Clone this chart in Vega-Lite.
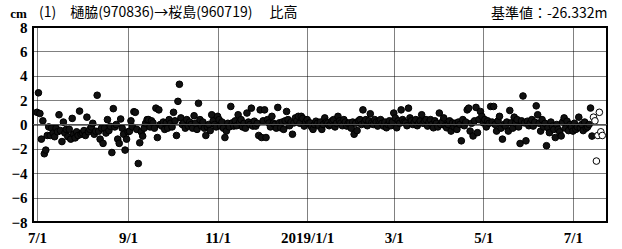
{
"$schema": "https://vega.github.io/schema/vega-lite/v6.json",
"width": 574, "height": 195,
"autosize": "none",
"padding": {"left": 33, "top": 27, "right": 15, "bottom": 27},
"background": "white",
"config": {"view": {"stroke": "#000", "strokeWidth": 2}},
"title": {"text": "(1)　樋脇(970836)→桜島(960719)　 比高", "anchor": "start", "frame": "group", "font": "Noto Sans CJK JP", "fontSize": 14, "fontWeight": "normal", "color": "#000", "offset": -14, "dx": 6},
"data": {"values": [
{"date":"2018-07-01","cm":1.0,"sol":"F"},{"date":"2018-07-02","cm":2.6,"sol":"F"},{"date":"2018-07-03","cm":0.9,"sol":"F"},{"date":"2018-07-04","cm":-1.2,"sol":"F"},{"date":"2018-07-05","cm":0.3,"sol":"F"},{"date":"2018-07-06","cm":-2.4,"sol":"F"},{"date":"2018-07-07","cm":-2.1,"sol":"F"},{"date":"2018-07-08","cm":-0.9,"sol":"F"},{"date":"2018-07-09","cm":-0.2,"sol":"F"},{"date":"2018-07-10","cm":-0.9,"sol":"F"},
{"date":"2018-07-11","cm":-0.3,"sol":"F"},{"date":"2018-07-12","cm":-0.7,"sol":"F"},{"date":"2018-07-13","cm":-1.0,"sol":"F"},{"date":"2018-07-14","cm":-0.3,"sol":"F"},{"date":"2018-07-15","cm":-0.6,"sol":"F"},{"date":"2018-07-16","cm":0.8,"sol":"F"},{"date":"2018-07-17","cm":-0.5,"sol":"F"},{"date":"2018-07-18","cm":-1.4,"sol":"F"},{"date":"2018-07-19","cm":0.2,"sol":"F"},{"date":"2018-07-20","cm":-0.7,"sol":"F"},
{"date":"2018-07-21","cm":-0.4,"sol":"F"},{"date":"2018-07-22","cm":-1.0,"sol":"F"},{"date":"2018-07-23","cm":-0.4,"sol":"F"},{"date":"2018-07-24","cm":-1.2,"sol":"F"},{"date":"2018-07-25","cm":0.5,"sol":"F"},{"date":"2018-07-26","cm":-0.8,"sol":"F"},{"date":"2018-07-27","cm":-1.1,"sol":"F"},{"date":"2018-07-28","cm":-0.6,"sol":"F"},{"date":"2018-07-29","cm":-0.9,"sol":"F"},{"date":"2018-07-30","cm":1.1,"sol":"F"},{"date":"2018-07-31","cm":-0.8,"sol":"F"},
{"date":"2018-08-01","cm":-0.7,"sol":"F"},{"date":"2018-08-02","cm":-0.5,"sol":"F"},{"date":"2018-08-03","cm":-0.9,"sol":"F"},{"date":"2018-08-04","cm":0.6,"sol":"F"},{"date":"2018-08-05","cm":-0.6,"sol":"F"},{"date":"2018-08-06","cm":-0.4,"sol":"F"},{"date":"2018-08-07","cm":-0.2,"sol":"F"},{"date":"2018-08-08","cm":0.1,"sol":"F"},{"date":"2018-08-09","cm":-0.8,"sol":"F"},{"date":"2018-08-10","cm":-0.55,"sol":"F"},
{"date":"2018-08-11","cm":2.4,"sol":"F"},{"date":"2018-08-12","cm":-0.55,"sol":"F"},{"date":"2018-08-13","cm":-1.2,"sol":"F"},{"date":"2018-08-14","cm":-0.3,"sol":"F"},{"date":"2018-08-15","cm":-1.55,"sol":"F"},{"date":"2018-08-16","cm":-0.3,"sol":"F"},{"date":"2018-08-17","cm":-0.7,"sol":"F"},{"date":"2018-08-18","cm":0.4,"sol":"F"},{"date":"2018-08-19","cm":-0.5,"sol":"F"},{"date":"2018-08-20","cm":-0.15,"sol":"F"},
{"date":"2018-08-21","cm":-2.3,"sol":"F"},{"date":"2018-08-22","cm":1.3,"sol":"F"},{"date":"2018-08-23","cm":-0.2,"sol":"F"},{"date":"2018-08-24","cm":0.0,"sol":"F"},{"date":"2018-08-25","cm":-1.2,"sol":"F"},{"date":"2018-08-26","cm":-1.55,"sol":"F"},{"date":"2018-08-27","cm":0.45,"sol":"F"},{"date":"2018-08-28","cm":-0.3,"sol":"F"},{"date":"2018-08-29","cm":-0.8,"sol":"F"},{"date":"2018-08-30","cm":-2.1,"sol":"F"},{"date":"2018-08-31","cm":-1.2,"sol":"F"},
{"date":"2018-09-01","cm":-0.6,"sol":"F"},{"date":"2018-09-02","cm":-0.55,"sol":"F"},{"date":"2018-09-03","cm":0.3,"sol":"F"},{"date":"2018-09-04","cm":-0.2,"sol":"F"},{"date":"2018-09-05","cm":1.05,"sol":"F"},{"date":"2018-09-06","cm":1.0,"sol":"F"},{"date":"2018-09-07","cm":-0.4,"sol":"F"},{"date":"2018-09-08","cm":-3.2,"sol":"F"},{"date":"2018-09-09","cm":-1.5,"sol":"F"},{"date":"2018-09-10","cm":-0.6,"sol":"F"},
{"date":"2018-09-11","cm":-0.95,"sol":"F"},{"date":"2018-09-12","cm":-0.3,"sol":"F"},{"date":"2018-09-13","cm":0.1,"sol":"F"},{"date":"2018-09-14","cm":0.4,"sol":"F"},{"date":"2018-09-15","cm":0.4,"sol":"F"},{"date":"2018-09-16","cm":-0.2,"sol":"F"},{"date":"2018-09-17","cm":0.3,"sol":"F"},{"date":"2018-09-18","cm":0.13,"sol":"F"},{"date":"2018-09-19","cm":-0.3,"sol":"F"},{"date":"2018-09-20","cm":1.34,"sol":"F"},
{"date":"2018-09-21","cm":-1.07,"sol":"F"},{"date":"2018-09-22","cm":1.2,"sol":"F"},{"date":"2018-09-23","cm":0.0,"sol":"F"},{"date":"2018-09-24","cm":-0.13,"sol":"F"},{"date":"2018-09-25","cm":0.2,"sol":"F"},{"date":"2018-09-26","cm":-0.4,"sol":"F"},{"date":"2018-09-27","cm":0.13,"sol":"F"},{"date":"2018-09-28","cm":-0.3,"sol":"F"},{"date":"2018-09-29","cm":0.4,"sol":"F"},{"date":"2018-09-30","cm":0.1,"sol":"F"},
{"date":"2018-10-01","cm":-0.2,"sol":"F"},{"date":"2018-10-02","cm":1.0,"sol":"F"},{"date":"2018-10-03","cm":0.3,"sol":"F"},{"date":"2018-10-04","cm":-0.9,"sol":"F"},{"date":"2018-10-05","cm":1.9,"sol":"F"},{"date":"2018-10-06","cm":3.3,"sol":"F"},{"date":"2018-10-07","cm":0.54,"sol":"F"},{"date":"2018-10-08","cm":0.0,"sol":"F"},{"date":"2018-10-09","cm":0.13,"sol":"F"},{"date":"2018-10-10","cm":-0.3,"sol":"F"},
{"date":"2018-10-11","cm":0.4,"sol":"F"},{"date":"2018-10-12","cm":-0.13,"sol":"F"},{"date":"2018-10-13","cm":0.2,"sol":"F"},{"date":"2018-10-14","cm":0.0,"sol":"F"},{"date":"2018-10-15","cm":-0.3,"sol":"F"},{"date":"2018-10-16","cm":0.72,"sol":"F"},{"date":"2018-10-17","cm":0.1,"sol":"F"},{"date":"2018-10-18","cm":-0.4,"sol":"F"},{"date":"2018-10-19","cm":1.74,"sol":"F"},{"date":"2018-10-20","cm":0.4,"sol":"F"},
{"date":"2018-10-21","cm":-0.13,"sol":"F"},{"date":"2018-10-22","cm":0.2,"sol":"F"},{"date":"2018-10-23","cm":-0.3,"sol":"F"},{"date":"2018-10-24","cm":-0.9,"sol":"F"},{"date":"2018-10-25","cm":-0.2,"sol":"F"},{"date":"2018-10-26","cm":0.0,"sol":"F"},{"date":"2018-10-27","cm":-0.5,"sol":"F"},{"date":"2018-10-28","cm":0.8,"sol":"F"},{"date":"2018-10-29","cm":0.3,"sol":"F"},{"date":"2018-10-30","cm":0.0,"sol":"F"},{"date":"2018-10-31","cm":-0.2,"sol":"F"},
{"date":"2018-11-01","cm":0.67,"sol":"F"},{"date":"2018-11-02","cm":0.4,"sol":"F"},{"date":"2018-11-03","cm":-0.13,"sol":"F"},{"date":"2018-11-04","cm":0.2,"sol":"F"},{"date":"2018-11-05","cm":-0.3,"sol":"F"},{"date":"2018-11-06","cm":-1.07,"sol":"F"},{"date":"2018-11-07","cm":-0.54,"sol":"F"},{"date":"2018-11-08","cm":0.1,"sol":"F"},{"date":"2018-11-09","cm":-0.2,"sol":"F"},{"date":"2018-11-10","cm":1.48,"sol":"F"},
{"date":"2018-11-11","cm":0.13,"sol":"F"},{"date":"2018-11-12","cm":-0.13,"sol":"F"},{"date":"2018-11-13","cm":0.3,"sol":"F"},{"date":"2018-11-14","cm":-0.1,"sol":"F"},{"date":"2018-11-15","cm":0.8,"sol":"F"},{"date":"2018-11-16","cm":0.2,"sol":"F"},{"date":"2018-11-17","cm":0.4,"sol":"F"},{"date":"2018-11-18","cm":-0.2,"sol":"F"},{"date":"2018-11-19","cm":0.1,"sol":"F"},{"date":"2018-11-20","cm":-0.3,"sol":"F"},
{"date":"2018-11-21","cm":0.94,"sol":"F"},{"date":"2018-11-22","cm":0.2,"sol":"F"},{"date":"2018-11-23","cm":0.0,"sol":"F"},{"date":"2018-11-24","cm":1.34,"sol":"F"},{"date":"2018-11-25","cm":-0.13,"sol":"F"},{"date":"2018-11-26","cm":0.27,"sol":"F"},{"date":"2018-11-27","cm":-0.13,"sol":"F"},{"date":"2018-11-28","cm":0.1,"sol":"F"},{"date":"2018-11-29","cm":-0.9,"sol":"F"},{"date":"2018-11-30","cm":1.2,"sol":"F"},
{"date":"2018-12-01","cm":-1.07,"sol":"F"},{"date":"2018-12-02","cm":0.3,"sol":"F"},{"date":"2018-12-03","cm":1.2,"sol":"F"},{"date":"2018-12-04","cm":-1.07,"sol":"F"},{"date":"2018-12-05","cm":0.4,"sol":"F"},{"date":"2018-12-06","cm":0.13,"sol":"F"},{"date":"2018-12-07","cm":-0.2,"sol":"F"},{"date":"2018-12-08","cm":0.67,"sol":"F"},{"date":"2018-12-09","cm":0.1,"sol":"F"},{"date":"2018-12-10","cm":0.0,"sol":"F"},
{"date":"2018-12-11","cm":-0.3,"sol":"F"},{"date":"2018-12-12","cm":1.4,"sol":"F"},{"date":"2018-12-13","cm":0.13,"sol":"F"},{"date":"2018-12-14","cm":-0.27,"sol":"F"},{"date":"2018-12-15","cm":0.2,"sol":"F"},{"date":"2018-12-16","cm":-0.4,"sol":"F"},{"date":"2018-12-17","cm":0.3,"sol":"F"},{"date":"2018-12-18","cm":1.07,"sol":"F"},{"date":"2018-12-19","cm":0.4,"sol":"F"},{"date":"2018-12-20","cm":-0.1,"sol":"F"},
{"date":"2018-12-21","cm":0.2,"sol":"F"},{"date":"2018-12-22","cm":-0.8,"sol":"F"},{"date":"2018-12-23","cm":0.13,"sol":"F"},{"date":"2018-12-24","cm":0.54,"sol":"F"},{"date":"2018-12-25","cm":0.3,"sol":"F"},{"date":"2018-12-26","cm":0.67,"sol":"F"},{"date":"2018-12-27","cm":0.1,"sol":"F"},{"date":"2018-12-28","cm":0.67,"sol":"F"},{"date":"2018-12-29","cm":0.5,"sol":"F"},{"date":"2018-12-30","cm":-0.13,"sol":"F"},{"date":"2018-12-31","cm":0.2,"sol":"F"},
{"date":"2019-01-01","cm":0.4,"sol":"F"},{"date":"2019-01-02","cm":0.1,"sol":"F"},{"date":"2019-01-03","cm":0.13,"sol":"F"},{"date":"2019-01-04","cm":-0.2,"sol":"F"},{"date":"2019-01-05","cm":-0.4,"sol":"F"},{"date":"2019-01-06","cm":0.0,"sol":"F"},{"date":"2019-01-07","cm":0.27,"sol":"F"},{"date":"2019-01-08","cm":0.1,"sol":"F"},{"date":"2019-01-09","cm":-0.13,"sol":"F"},{"date":"2019-01-10","cm":0.2,"sol":"F"},
{"date":"2019-01-11","cm":-0.4,"sol":"F"},{"date":"2019-01-12","cm":0.0,"sol":"F"},{"date":"2019-01-13","cm":0.54,"sol":"F"},{"date":"2019-01-14","cm":0.2,"sol":"F"},{"date":"2019-01-15","cm":0.13,"sol":"F"},{"date":"2019-01-16","cm":-0.1,"sol":"F"},{"date":"2019-01-17","cm":0.0,"sol":"F"},{"date":"2019-01-18","cm":0.3,"sol":"F"},{"date":"2019-01-19","cm":0.4,"sol":"F"},{"date":"2019-01-20","cm":-0.2,"sol":"F"},
{"date":"2019-01-21","cm":0.1,"sol":"F"},{"date":"2019-01-22","cm":0.67,"sol":"F"},{"date":"2019-01-23","cm":0.3,"sol":"F"},{"date":"2019-01-24","cm":0.13,"sol":"F"},{"date":"2019-01-25","cm":-0.1,"sol":"F"},{"date":"2019-01-26","cm":0.4,"sol":"F"},{"date":"2019-01-27","cm":0.2,"sol":"F"},{"date":"2019-01-28","cm":-0.13,"sol":"F"},{"date":"2019-01-29","cm":0.1,"sol":"F"},{"date":"2019-01-30","cm":0.13,"sol":"F"},{"date":"2019-01-31","cm":-0.3,"sol":"F"},
{"date":"2019-02-01","cm":0.2,"sol":"F"},{"date":"2019-02-02","cm":-0.8,"sol":"F"},{"date":"2019-02-03","cm":0.1,"sol":"F"},{"date":"2019-02-04","cm":-0.5,"sol":"F"},{"date":"2019-02-05","cm":0.3,"sol":"F"},{"date":"2019-02-06","cm":0.4,"sol":"F"},{"date":"2019-02-07","cm":0.0,"sol":"F"},{"date":"2019-02-08","cm":1.2,"sol":"F"},{"date":"2019-02-09","cm":0.2,"sol":"F"},{"date":"2019-02-10","cm":0.4,"sol":"F"},
{"date":"2019-02-11","cm":-0.1,"sol":"F"},{"date":"2019-02-12","cm":0.3,"sol":"F"},{"date":"2019-02-13","cm":0.88,"sol":"F"},{"date":"2019-02-14","cm":0.13,"sol":"F"},{"date":"2019-02-15","cm":0.0,"sol":"F"},{"date":"2019-02-16","cm":0.4,"sol":"F"},{"date":"2019-02-17","cm":0.2,"sol":"F"},{"date":"2019-02-18","cm":-0.13,"sol":"F"},{"date":"2019-02-19","cm":0.3,"sol":"F"},{"date":"2019-02-20","cm":0.4,"sol":"F"},
{"date":"2019-02-21","cm":0.1,"sol":"F"},{"date":"2019-02-22","cm":-0.13,"sol":"F"},{"date":"2019-02-23","cm":0.2,"sol":"F"},{"date":"2019-02-24","cm":-0.27,"sol":"F"},{"date":"2019-02-25","cm":0.0,"sol":"F"},{"date":"2019-02-26","cm":0.3,"sol":"F"},{"date":"2019-02-27","cm":-0.1,"sol":"F"},{"date":"2019-02-28","cm":0.2,"sol":"F"},
{"date":"2019-03-01","cm":0.94,"sol":"F"},{"date":"2019-03-02","cm":0.54,"sol":"F"},{"date":"2019-03-03","cm":-0.27,"sol":"F"},{"date":"2019-03-04","cm":0.3,"sol":"F"},{"date":"2019-03-05","cm":0.1,"sol":"F"},{"date":"2019-03-06","cm":1.2,"sol":"F"},{"date":"2019-03-07","cm":0.4,"sol":"F"},{"date":"2019-03-08","cm":0.2,"sol":"F"},{"date":"2019-03-09","cm":0.13,"sol":"F"},{"date":"2019-03-10","cm":-0.1,"sol":"F"},
{"date":"2019-03-11","cm":1.34,"sol":"F"},{"date":"2019-03-12","cm":0.54,"sol":"F"},{"date":"2019-03-13","cm":0.3,"sol":"F"},{"date":"2019-03-14","cm":0.0,"sol":"F"},{"date":"2019-03-15","cm":0.2,"sol":"F"},{"date":"2019-03-16","cm":0.4,"sol":"F"},{"date":"2019-03-17","cm":-0.1,"sol":"F"},{"date":"2019-03-18","cm":0.13,"sol":"F"},{"date":"2019-03-19","cm":0.3,"sol":"F"},{"date":"2019-03-20","cm":0.8,"sol":"F"},
{"date":"2019-03-21","cm":0.1,"sol":"F"},{"date":"2019-03-22","cm":0.27,"sol":"F"},{"date":"2019-03-23","cm":0.4,"sol":"F"},{"date":"2019-03-24","cm":-0.13,"sol":"F"},{"date":"2019-03-25","cm":0.2,"sol":"F"},{"date":"2019-03-26","cm":0.4,"sol":"F"},{"date":"2019-03-27","cm":0.0,"sol":"F"},{"date":"2019-03-28","cm":-0.27,"sol":"F"},{"date":"2019-03-29","cm":0.3,"sol":"F"},{"date":"2019-03-30","cm":0.1,"sol":"F"},{"date":"2019-03-31","cm":-0.2,"sol":"F"},
{"date":"2019-04-01","cm":0.94,"sol":"F"},{"date":"2019-04-02","cm":0.0,"sol":"F"},{"date":"2019-04-03","cm":0.2,"sol":"F"},{"date":"2019-04-04","cm":0.54,"sol":"F"},{"date":"2019-04-05","cm":-0.1,"sol":"F"},{"date":"2019-04-06","cm":-0.27,"sol":"F"},{"date":"2019-04-07","cm":0.0,"sol":"F"},{"date":"2019-04-08","cm":0.3,"sol":"F"},{"date":"2019-04-09","cm":-0.54,"sol":"F"},{"date":"2019-04-10","cm":0.13,"sol":"F"},
{"date":"2019-04-11","cm":-0.2,"sol":"F"},{"date":"2019-04-12","cm":0.1,"sol":"F"},{"date":"2019-04-13","cm":-0.4,"sol":"F"},{"date":"2019-04-14","cm":0.2,"sol":"F"},{"date":"2019-04-15","cm":0.0,"sol":"F"},{"date":"2019-04-16","cm":-1.34,"sol":"F"},{"date":"2019-04-17","cm":0.4,"sol":"F"},{"date":"2019-04-18","cm":-0.1,"sol":"F"},{"date":"2019-04-19","cm":0.2,"sol":"F"},{"date":"2019-04-20","cm":1.2,"sol":"F"},
{"date":"2019-04-21","cm":1.34,"sol":"F"},{"date":"2019-04-22","cm":-0.54,"sol":"F"},{"date":"2019-04-23","cm":0.1,"sol":"F"},{"date":"2019-04-24","cm":-0.94,"sol":"F"},{"date":"2019-04-25","cm":0.3,"sol":"F"},{"date":"2019-04-26","cm":1.4,"sol":"F"},{"date":"2019-04-27","cm":-0.67,"sol":"F"},{"date":"2019-04-28","cm":0.4,"sol":"F"},{"date":"2019-04-29","cm":1.07,"sol":"F"},{"date":"2019-04-30","cm":0.67,"sol":"F"},
{"date":"2019-05-01","cm":0.13,"sol":"F"},{"date":"2019-05-02","cm":0.4,"sol":"F"},{"date":"2019-05-03","cm":-0.2,"sol":"F"},{"date":"2019-05-04","cm":0.3,"sol":"F"},{"date":"2019-05-05","cm":0.1,"sol":"F"},{"date":"2019-05-06","cm":1.48,"sol":"F"},{"date":"2019-05-07","cm":0.2,"sol":"F"},{"date":"2019-05-08","cm":1.48,"sol":"F"},{"date":"2019-05-09","cm":0.0,"sol":"F"},{"date":"2019-05-10","cm":-0.54,"sol":"F"},
{"date":"2019-05-11","cm":0.3,"sol":"F"},{"date":"2019-05-12","cm":0.67,"sol":"F"},{"date":"2019-05-13","cm":-0.3,"sol":"F"},{"date":"2019-05-14","cm":-1.2,"sol":"F"},{"date":"2019-05-15","cm":0.0,"sol":"F"},{"date":"2019-05-16","cm":-0.13,"sol":"F"},{"date":"2019-05-17","cm":0.2,"sol":"F"},{"date":"2019-05-18","cm":-0.54,"sol":"F"},{"date":"2019-05-19","cm":1.15,"sol":"F"},{"date":"2019-05-20","cm":0.13,"sol":"F"},
{"date":"2019-05-21","cm":-0.3,"sol":"F"},{"date":"2019-05-22","cm":0.6,"sol":"F"},{"date":"2019-05-23","cm":0.1,"sol":"F"},{"date":"2019-05-24","cm":0.4,"sol":"F"},{"date":"2019-05-25","cm":-0.2,"sol":"F"},{"date":"2019-05-26","cm":-1.56,"sol":"F"},{"date":"2019-05-27","cm":0.3,"sol":"F"},{"date":"2019-05-28","cm":2.34,"sol":"F"},{"date":"2019-05-29","cm":0.13,"sol":"F"},{"date":"2019-05-30","cm":-1.34,"sol":"F"},{"date":"2019-05-31","cm":0.27,"sol":"F"},
{"date":"2019-06-01","cm":-0.1,"sol":"F"},{"date":"2019-06-02","cm":0.13,"sol":"F"},{"date":"2019-06-03","cm":0.4,"sol":"F"},{"date":"2019-06-04","cm":-0.13,"sol":"F"},{"date":"2019-06-05","cm":0.2,"sol":"F"},{"date":"2019-06-06","cm":1.53,"sol":"F"},{"date":"2019-06-07","cm":0.8,"sol":"F"},{"date":"2019-06-08","cm":0.1,"sol":"F"},{"date":"2019-06-09","cm":-0.54,"sol":"F"},{"date":"2019-06-10","cm":0.4,"sol":"F"},
{"date":"2019-06-11","cm":-0.2,"sol":"F"},{"date":"2019-06-12","cm":0.1,"sol":"F"},{"date":"2019-06-13","cm":-1.74,"sol":"F"},{"date":"2019-06-14","cm":-0.27,"sol":"F"},{"date":"2019-06-15","cm":-0.67,"sol":"F"},{"date":"2019-06-16","cm":0.2,"sol":"F"},{"date":"2019-06-17","cm":-0.13,"sol":"F"},{"date":"2019-06-18","cm":-0.4,"sol":"F"},{"date":"2019-06-19","cm":-1.07,"sol":"F"},{"date":"2019-06-20","cm":0.0,"sol":"F"},
{"date":"2019-06-21","cm":-0.4,"sol":"F"},{"date":"2019-06-22","cm":-0.6,"sol":"F"},{"date":"2019-06-23","cm":-0.94,"sol":"F"},{"date":"2019-06-24","cm":0.2,"sol":"F"},{"date":"2019-06-25","cm":0.54,"sol":"F"},{"date":"2019-06-26","cm":-0.3,"sol":"F"},{"date":"2019-06-27","cm":0.27,"sol":"F"},{"date":"2019-06-28","cm":-0.5,"sol":"F"},{"date":"2019-06-29","cm":0.0,"sol":"F"},{"date":"2019-06-30","cm":-0.2,"sol":"F"},
{"date":"2019-07-01","cm":-0.54,"sol":"F"},{"date":"2019-07-02","cm":0.1,"sol":"F"},{"date":"2019-07-03","cm":-0.4,"sol":"F"},{"date":"2019-07-04","cm":-0.2,"sol":"F"},{"date":"2019-07-05","cm":0.6,"sol":"F"},{"date":"2019-07-06","cm":-0.27,"sol":"F"},{"date":"2019-07-07","cm":0.0,"sol":"F"},{"date":"2019-07-08","cm":-0.5,"sol":"F"},{"date":"2019-07-09","cm":0.2,"sol":"F"},{"date":"2019-07-10","cm":-0.3,"sol":"F"},
{"date":"2019-07-11","cm":-0.2,"sol":"F"},{"date":"2019-07-12","cm":0.0,"sol":"F"},{"date":"2019-07-13","cm":1.35,"sol":"F"},{"date":"2019-07-14","cm":-0.95,"sol":"F"},
{"date":"2019-07-15","cm":0.6,"sol":"R"},{"date":"2019-07-16","cm":0.3,"sol":"R"},{"date":"2019-07-17","cm":-3.0,"sol":"R"},{"date":"2019-07-18","cm":-0.9,"sol":"R"},{"date":"2019-07-19","cm":1.0,"sol":"R"},{"date":"2019-07-20","cm":-0.6,"sol":"R"},{"date":"2019-07-21","cm":-0.9,"sol":"R"}
]},
"layer": [
{"mark": {"type": "point", "shape": "circle", "size": 44, "stroke": "#000", "strokeWidth": 1, "opacity": 1, "fillOpacity": 1},
 "encoding": {
  "x": {"field": "date", "type": "temporal",
   "scale": {"type": "utc", "domain": [{"year": 2018, "month": 6, "date": 28, "hours": 7, "utc": true}, {"year": 2019, "month": 7, "date": 24, "hours": 5, "utc": true}]},
   "axis": {"values": [{"year": 2018, "month": 7, "date": 1, "utc": true}, {"year": 2018, "month": 9, "date": 1, "utc": true}, {"year": 2018, "month": 11, "date": 1, "utc": true}, {"year": 2019, "month": 1, "date": 1, "utc": true}, {"year": 2019, "month": 3, "date": 1, "utc": true}, {"year": 2019, "month": 5, "date": 1, "utc": true}, {"year": 2019, "month": 7, "date": 1, "utc": true}],
    "labelExpr": "utcmonth(datum.value) == 0 ? utcFormat(datum.value, '%Y/%-m/%-d') : utcFormat(datum.value, '%-m/%-d')",
    "title": "基準値：-26.332m", "titleFont": "Noto Sans CJK JP", "titleFontSize": 14, "titleFontWeight": "normal", "titleColor": "#000",
    "titleX": 574, "titleY": -209, "titleAlign": "right", "titleBaseline": "middle", "titleAngle": 0,
    "grid": true, "gridDash": [1, 1], "gridColor": "#000", "gridOpacity": 1, "gridWidth": 1, "domain": false, "ticks": false,
    "labelFont": "Liberation Sans Narrow", "labelFontSize": 15, "labelFontWeight": "bold", "labelColor": "#000", "labelPadding": 8, "labelFlush": false, "labelOverlap": false, "labelBound": false}},
  "y": {"field": "cm", "type": "quantitative",
   "scale": {"domain": [-8, 8], "nice": false, "zero": false},
   "axis": {"values": [-8, -6, -4, -2, 0, 2, 4, 6, 8], "tickCount": 9, "title": "cm", "titleAngle": 0, "titleX": -15, "titleY": -14, "titleAlign": "center", "titleBaseline": "middle", "titleFont": "Liberation Sans Narrow", "titleFontSize": 13, "titleFontWeight": "bold", "titleColor": "#000",
    "grid": true, "gridDash": [1, 1], "gridColor": "#000", "gridOpacity": 1, "gridWidth": 1, "domain": false, "ticks": false,
    "labelFont": "Liberation Sans Narrow", "labelFontSize": 15, "labelFontWeight": "bold", "labelColor": "#000", "labelPadding": 6, "labelFlush": false, "labelOverlap": false}},
  "fill": {"field": "sol", "type": "nominal", "scale": {"domain": ["F", "R"], "range": ["#111", "#ffffff"]}, "legend": null}
 }},
{"mark": {"type": "rule", "color": "#555", "strokeWidth": 1},
 "encoding": {"y": {"datum": 0, "type": "quantitative",
   "axis": {"values": [-8, -6, -4, -2, 0, 2, 4, 6, 8], "tickCount": 9, "title": "cm", "titleAngle": 0, "titleX": -15, "titleY": -14, "titleAlign": "center", "titleBaseline": "middle", "titleFont": "Liberation Sans Narrow", "titleFontSize": 13, "titleFontWeight": "bold", "titleColor": "#000",
    "grid": true, "gridDash": [1, 1], "gridColor": "#000", "gridOpacity": 1, "gridWidth": 1, "domain": false, "ticks": false,
    "labelFont": "Liberation Sans Narrow", "labelFontSize": 15, "labelFontWeight": "bold", "labelColor": "#000", "labelPadding": 6, "labelFlush": false, "labelOverlap": false}}}}
]
}
